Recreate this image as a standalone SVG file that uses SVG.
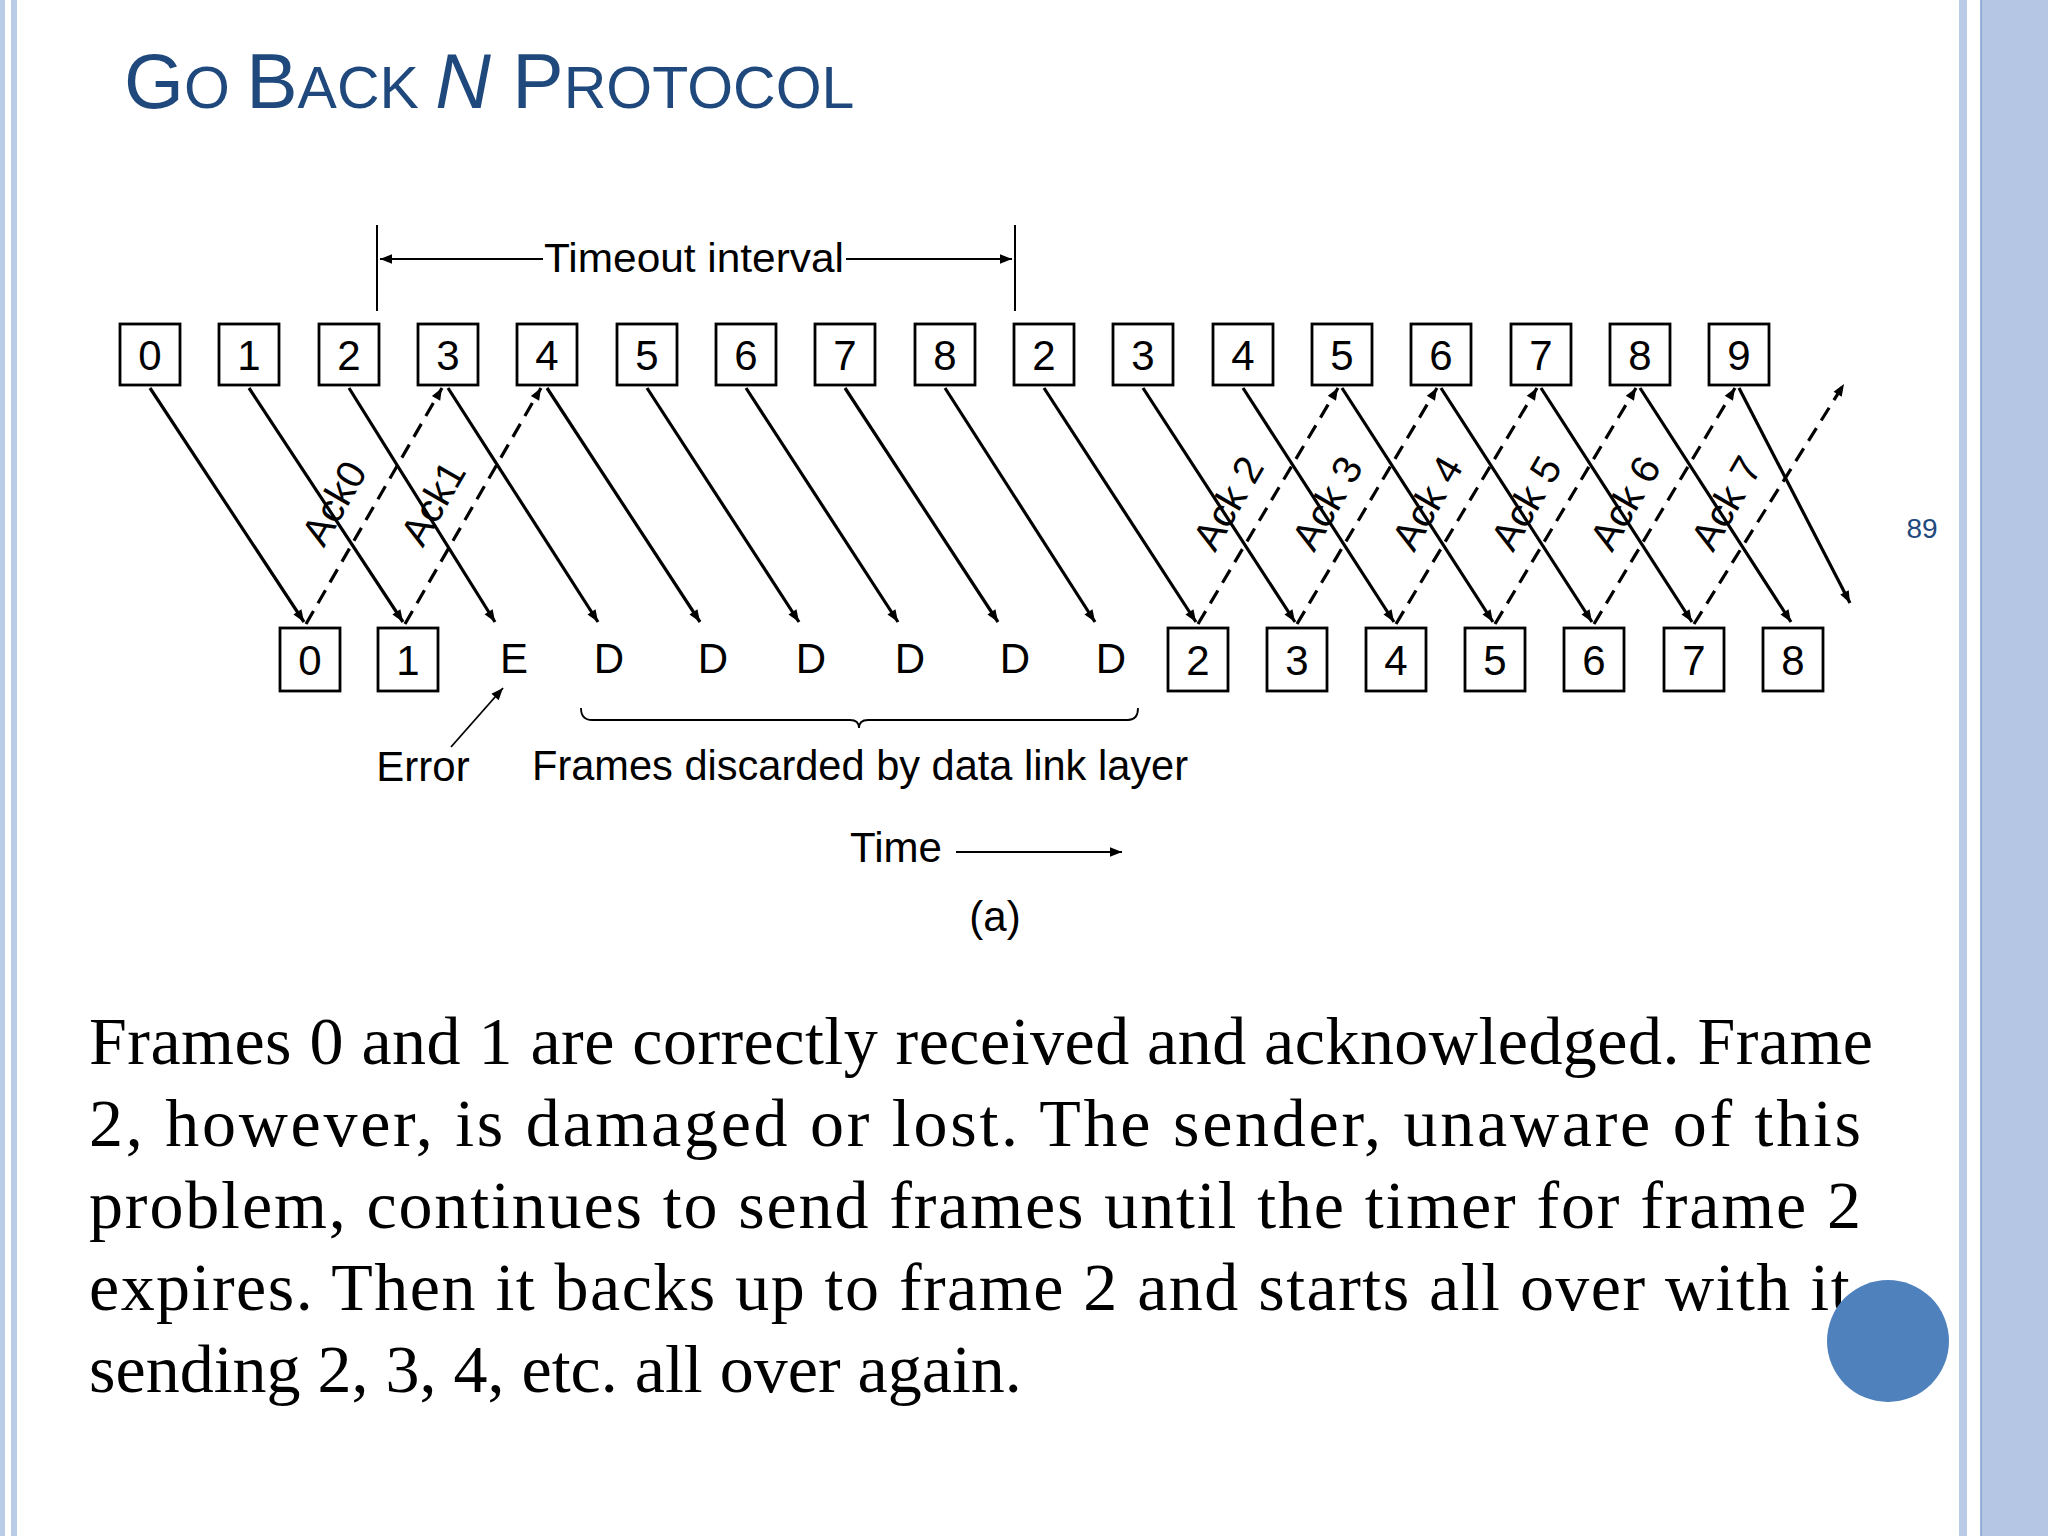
<svg xmlns="http://www.w3.org/2000/svg" width="2048" height="1536" viewBox="0 0 2048 1536">
<defs>
<marker id="a2" viewBox="0 0 10 10" refX="10" refY="5" markerWidth="16" markerHeight="12" markerUnits="userSpaceOnUse" orient="auto"><path d="M0,1 L10,5 L0,9 z" fill="#000"/></marker>
</defs>
<style>
.b{fill:#fff;stroke:#000;stroke-width:2.8}
.t{font-family:"Liberation Sans",Arial,sans-serif;font-size:42px;fill:#000;text-anchor:middle}
.l{font-family:"Liberation Sans",Arial,sans-serif;font-size:40px;fill:#000;text-anchor:middle}
.f{stroke:#000;stroke-width:3.2;fill:none;marker-end:url(#a2)}
.d{stroke:#000;stroke-width:3.2;fill:none;stroke-dasharray:15,9;marker-end:url(#a2)}
.p{font-family:"Liberation Serif","Times New Roman",serif;font-size:68px;fill:#000}
</style>
<rect width="2048" height="1536" fill="#fff"/>
<rect x="0" y="0" width="5" height="1536" fill="#b9cbe6"/>
<rect x="11" y="0" width="6" height="1536" fill="#b9cbe6"/>
<rect x="1959" y="0" width="8" height="1536" fill="#b9cbe6"/>
<rect x="1981" y="0" width="67" height="1536" fill="#b4c6e4"/>
<line x1="1981" y1="0" x2="1981" y2="1536" stroke="#7f9fd0" stroke-width="1.5"/>
<text x="124" y="108" font-family="Liberation Sans,Arial,sans-serif" fill="#1f497d" font-size="77"><tspan>G</tspan><tspan font-size="59">O </tspan><tspan>B</tspan><tspan font-size="59">ACK </tspan><tspan font-style="italic">N</tspan><tspan> P</tspan><tspan font-size="59">ROTOCOL</tspan></text>
<text x="1922" y="538" font-family="Liberation Sans,Arial,sans-serif" font-size="28" fill="#1f497d" text-anchor="middle">89</text>

<g id="timeout">
<line x1="377" y1="225" x2="377" y2="311" stroke="#000" stroke-width="2"/>
<line x1="1015" y1="225" x2="1015" y2="311" stroke="#000" stroke-width="2"/>
<line x1="543" y1="259" x2="380" y2="259" stroke="#000" stroke-width="2.2" marker-end="url(#a2)"/>
<line x1="846" y1="259" x2="1012" y2="259" stroke="#000" stroke-width="2.2" marker-end="url(#a2)"/>
<text class="l" x="694" y="272" font-size="42" textLength="300" lengthAdjust="spacingAndGlyphs">Timeout interval</text>
</g>

<g id="sender">
<rect class="b" x="120" y="324" width="60" height="61"/><text class="t" x="150" y="370">0</text>
<rect class="b" x="219" y="324" width="60" height="61"/><text class="t" x="249" y="370">1</text>
<rect class="b" x="319" y="324" width="60" height="61"/><text class="t" x="349" y="370">2</text>
<rect class="b" x="418" y="324" width="60" height="61"/><text class="t" x="448" y="370">3</text>
<rect class="b" x="517" y="324" width="60" height="61"/><text class="t" x="547" y="370">4</text>
<rect class="b" x="617" y="324" width="60" height="61"/><text class="t" x="647" y="370">5</text>
<rect class="b" x="716" y="324" width="60" height="61"/><text class="t" x="746" y="370">6</text>
<rect class="b" x="815" y="324" width="60" height="61"/><text class="t" x="845" y="370">7</text>
<rect class="b" x="915" y="324" width="60" height="61"/><text class="t" x="945" y="370">8</text>
<rect class="b" x="1014" y="324" width="60" height="61"/><text class="t" x="1044" y="370">2</text>
<rect class="b" x="1113" y="324" width="60" height="61"/><text class="t" x="1143" y="370">3</text>
<rect class="b" x="1213" y="324" width="60" height="61"/><text class="t" x="1243" y="370">4</text>
<rect class="b" x="1312" y="324" width="60" height="61"/><text class="t" x="1342" y="370">5</text>
<rect class="b" x="1411" y="324" width="60" height="61"/><text class="t" x="1441" y="370">6</text>
<rect class="b" x="1511" y="324" width="60" height="61"/><text class="t" x="1541" y="370">7</text>
<rect class="b" x="1610" y="324" width="60" height="61"/><text class="t" x="1640" y="370">8</text>
<rect class="b" x="1709" y="324" width="60" height="61"/><text class="t" x="1739" y="370">9</text>
</g>

<g id="receiver">
<rect class="b" x="280" y="628" width="60" height="63"/><text class="t" x="310" y="675">0</text>
<rect class="b" x="378" y="628" width="60" height="63"/><text class="t" x="408" y="675">1</text>
<text class="t" x="514" y="673">E</text>
<text class="t" x="609" y="673">D</text>
<text class="t" x="713" y="673">D</text>
<text class="t" x="811" y="673">D</text>
<text class="t" x="910" y="673">D</text>
<text class="t" x="1015" y="673">D</text>
<text class="t" x="1111" y="673">D</text>
<rect class="b" x="1168" y="628" width="60" height="63"/><text class="t" x="1198" y="675">2</text>
<rect class="b" x="1267" y="628" width="60" height="63"/><text class="t" x="1297" y="675">3</text>
<rect class="b" x="1366" y="628" width="60" height="63"/><text class="t" x="1396" y="675">4</text>
<rect class="b" x="1465" y="628" width="60" height="63"/><text class="t" x="1495" y="675">5</text>
<rect class="b" x="1564" y="628" width="60" height="63"/><text class="t" x="1594" y="675">6</text>
<rect class="b" x="1664" y="628" width="60" height="63"/><text class="t" x="1694" y="675">7</text>
<rect class="b" x="1763" y="628" width="60" height="63"/><text class="t" x="1793" y="675">8</text>
</g>

<g id="connectors">
<line class="f" x1="150" y1="388" x2="304" y2="622"/>
<line class="f" x1="249" y1="388" x2="403" y2="622"/>
<line class="f" x1="349" y1="388" x2="495" y2="622"/>
<line class="f" x1="448" y1="388" x2="598" y2="622"/>
<line class="f" x1="547" y1="388" x2="700" y2="622"/>
<line class="f" x1="647" y1="388" x2="799" y2="622"/>
<line class="f" x1="746" y1="388" x2="898" y2="622"/>
<line class="f" x1="845" y1="388" x2="998" y2="622"/>
<line class="f" x1="945" y1="388" x2="1095" y2="622"/>
<line class="f" x1="1044" y1="388" x2="1196" y2="622"/>
<line class="f" x1="1143" y1="388" x2="1295" y2="622"/>
<line class="f" x1="1243" y1="388" x2="1394" y2="622"/>
<line class="f" x1="1342" y1="388" x2="1493" y2="622"/>
<line class="f" x1="1441" y1="388" x2="1592" y2="622"/>
<line class="f" x1="1541" y1="388" x2="1692" y2="622"/>
<line class="f" x1="1640" y1="388" x2="1791" y2="622"/>
<line class="f" x1="1739" y1="388" x2="1850" y2="603"/>

<line class="d" x1="306" y1="624" x2="442" y2="388"/>
<line class="d" x1="405" y1="624" x2="541" y2="388"/>
<line class="d" x1="1198" y1="624" x2="1338" y2="388"/>
<line class="d" x1="1297" y1="624" x2="1437" y2="388"/>
<line class="d" x1="1396" y1="624" x2="1537" y2="388"/>
<line class="d" x1="1495" y1="624" x2="1636" y2="388"/>
<line class="d" x1="1594" y1="624" x2="1735" y2="388"/>
<line class="d" x1="1694" y1="624" x2="1844" y2="384"/>

<line x1="451" y1="747" x2="503" y2="688" stroke="#000" stroke-width="1.8" marker-end="url(#a2)"/>
<line x1="956" y1="852" x2="1122" y2="852" stroke="#000" stroke-width="2.2" marker-end="url(#a2)"/>
<path d="M581,708 Q581,720 592,720 L850,720 Q859,720 859,728 Q859,720 868,720 L1128,720 Q1138,720 1138,708" fill="none" stroke="#000" stroke-width="1.8"/>
</g>

<g id="acklabels" class="l">
<text transform="translate(346,510) rotate(-60)">Ack0</text>
<text transform="translate(445,510) rotate(-60)">Ack1</text>
<text transform="translate(1240,510) rotate(-60)">Ack 2</text>
<text transform="translate(1339,510) rotate(-60)">Ack 3</text>
<text transform="translate(1439,510) rotate(-60)">Ack 4</text>
<text transform="translate(1538,510) rotate(-60)">Ack 5</text>
<text transform="translate(1637,510) rotate(-60)">Ack 6</text>
<text transform="translate(1738,510) rotate(-60)">Ack 7</text>
</g>

<g id="labels" class="l">
<text x="423" y="781" font-size="42">Error</text>
<text x="860" y="780" font-size="42" textLength="656" lengthAdjust="spacingAndGlyphs">Frames discarded by data link layer</text>
<text x="896" y="862" font-size="42">Time</text>
<text x="995" y="931" font-size="42">(a)</text>
</g>

<g id="paragraph" class="p">
<text x="89" y="1064" textLength="1784" lengthAdjust="spacing">Frames 0 and 1 are correctly received and acknowledged. Frame</text>
<text x="89" y="1146" textLength="1772" lengthAdjust="spacing">2, however, is damaged or lost. The sender, unaware of this</text>
<text x="89" y="1228" textLength="1772" lengthAdjust="spacing">problem, continues to send frames until the timer for frame 2</text>
<text x="89" y="1310" textLength="1779" lengthAdjust="spacing">expires. Then it backs up to frame 2 and starts all over with it,</text>
<text x="89" y="1392">sending 2, 3, 4, etc. all over again.</text>
</g>
<circle cx="1888" cy="1341" r="61" fill="#4f81bd"/>
</svg>
